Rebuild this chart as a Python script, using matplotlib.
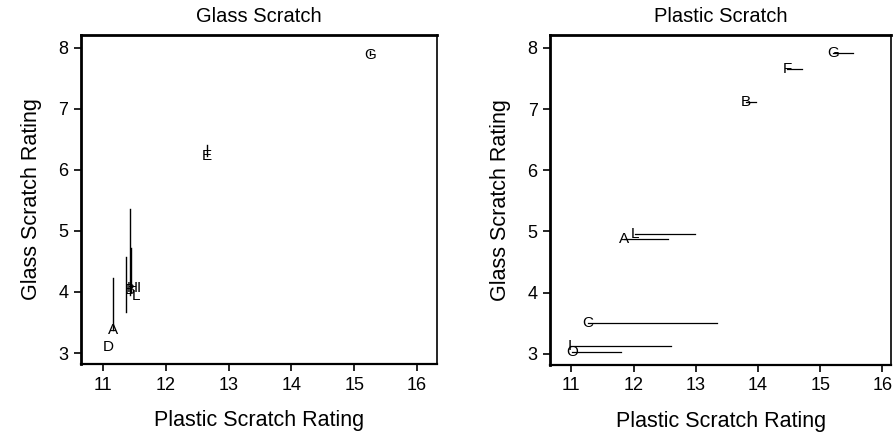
import matplotlib.pyplot as plt
import numpy as np

plt.rcParams['font.family'] = ['Liberation Sans', 'DejaVu Sans']

# left panel: glass scratch, vertical error lines
left_letters = ['D', 'A', 'B', 'H', 'L', 'I', 'E', 'G']
left_x = [11.08, 11.16, 11.43, 11.46, 11.53, 11.57, 12.66, 15.25]
left_y = [3.10, 3.38, 4.03, 4.06, 3.93, 4.07, 6.22, 7.88]

seg_x = [11.16, 11.36, 11.43, 11.45, 12.66, 15.25]
seg_lo = [3.38, 3.67, 3.95, 4.00, 6.22, 7.88]
seg_hi = [4.23, 4.57, 5.36, 4.72, 6.40, 7.95]

# right panel: plastic scratch, horizontal error lines
right_letters = ['O', 'I', 'C', 'A', 'L', 'B', 'F', 'G']
right_x = [11.02, 10.98, 11.27, 11.84, 12.03, 13.80, 14.47, 15.20]
right_y = [3.03, 3.13, 3.51, 4.88, 4.96, 7.12, 7.66, 7.92]
right_xend = [11.80, 12.61, 13.34, 12.55, 12.99, 13.96, 14.70, 15.52]

xticks = [11, 12, 13, 14, 15, 16]
yticks = [3, 4, 5, 6, 7, 8]

fig = plt.figure(figsize=(8.93, 4.37), dpi=100)
ax1 = fig.add_axes([0.0907, 0.167, 0.3987, 0.753])
ax2 = fig.add_axes([0.616, 0.165, 0.382, 0.755])

for xs, lo, hi in zip(seg_x, seg_lo, seg_hi):
    ax1.plot([xs, xs], [lo, hi], color='black', lw=1.0)
for t, x, y in zip(left_letters, left_x, left_y):
    ax1.text(x, y, t, ha='center', va='center', fontsize=11)

for x, y, xe in zip(right_x, right_y, right_xend):
    ax2.plot([x, xe], [y, y], color='black', lw=0.9)
for t, x, y in zip(right_letters, right_x, right_y):
    ax2.text(x, y, t, ha='center', va='center', fontsize=11)

ax1.set_xlim(10.65, 16.32)
ax2.set_xlim(10.66, 16.14)
for ax, title in [(ax1, 'Glass Scratch'), (ax2, 'Plastic Scratch')]:
    ax.set_ylim(2.82, 8.21)
    ax.set_xticks(xticks)
    ax.set_yticks(yticks)
    ax.tick_params(direction='out', length=5, width=1.2, labelsize=13, pad=4)
    ax.set_title(title, fontsize=14.5, pad=9)
    ax.set_xlabel('Plastic Scratch Rating', fontsize=15.5, labelpad=12)
    ax.set_ylabel('Glass Scratch Rating', fontsize=15.5, labelpad=12)
    ax.spines['left'].set_linewidth(2.0)
    ax.spines['top'].set_linewidth(2.0)
    ax.spines['bottom'].set_linewidth(1.6)
    ax.spines['right'].set_linewidth(1.2)

fig.savefig('out.png', dpi=100)
plt.close(fig)
